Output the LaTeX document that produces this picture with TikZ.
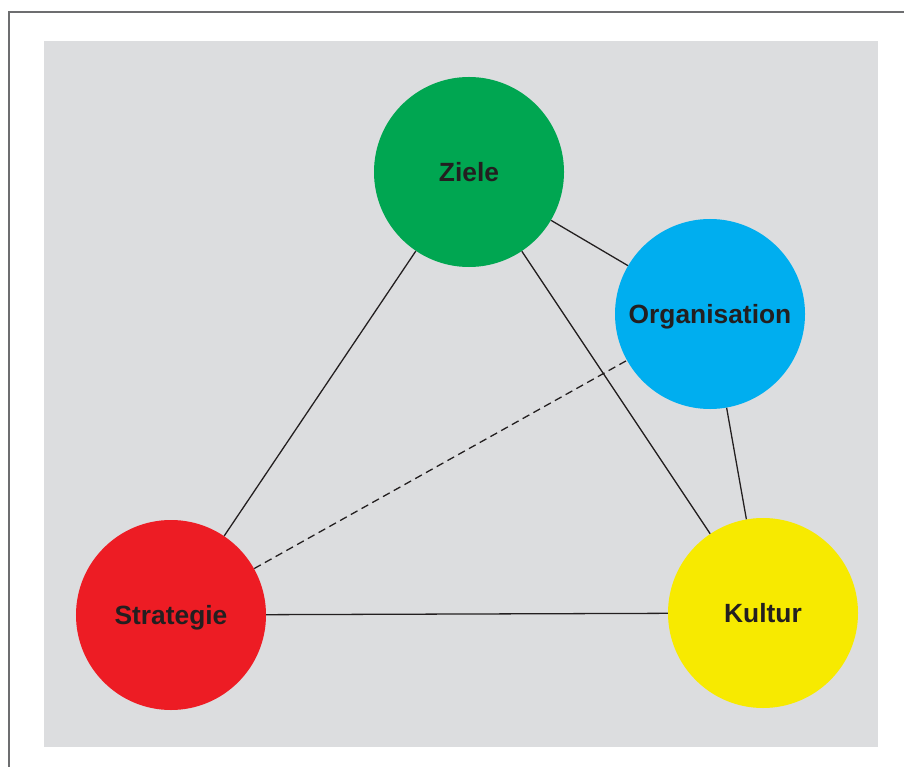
\documentclass[tikz,border=0pt]{standalone}
\usepackage{fontspec}
\setmainfont{Liberation Sans}
\definecolor{panel}{HTML}{DCDDDF}
\definecolor{frame}{HTML}{6D6E70}
\definecolor{ink}{HTML}{231F20}
\definecolor{zielgruen}{HTML}{00A651}
\definecolor{orgblau}{HTML}{00AEEF}
\definecolor{stratrot}{HTML}{ED1C24}
\definecolor{kulturgelb}{HTML}{F7EA00}
\begin{document}
\begin{tikzpicture}[x=0.03cm,y=-0.03cm,
  ball/.style={circle,minimum size=5.7cm,inner sep=0pt,text=ink,
    text height=16pt,text depth=0pt,
    font=\fontsize{22.5}{26}\selectfont\bfseries},
  link/.style={ink,line width=1.1pt}]
  \useasboundingbox (0,0) rectangle (904,767);
  \fill[panel] (44,41) rectangle (878,747);
  \draw[frame,line width=1.5pt] (9,767) -- (9,12) -- (904,12);
  % the four fields
  \node[ball,fill=zielgruen] (ziele) at (469,172) {Ziele};
  \node[ball,fill=orgblau] (org) at (710,314) {Organisation};
  \node[ball,fill=stratrot] (strat) at (171,615) {Strategie};
  \node[ball,fill=kulturgelb] (kultur) at (763,613) {Kultur};
  % connections
  \foreach \a/\b in {ziele/strat,ziele/org,ziele/kultur,org/kultur,strat/kultur}
    \draw[link] (\a) -- (\b);
  \draw[link,dash pattern=on 6.5pt off 4pt] (strat) -- (org);
\end{tikzpicture}
\end{document}
